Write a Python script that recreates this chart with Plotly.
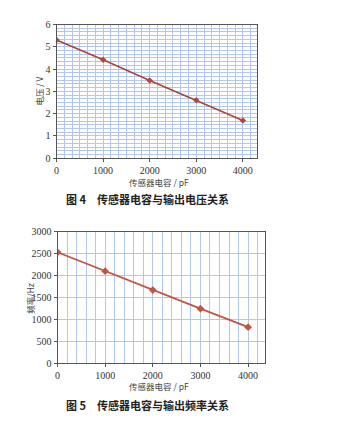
import plotly.graph_objects as go

cap_pf = [0, 1000, 2000, 3000, 4000]
voltage_v = [5.31, 4.42, 3.49, 2.60, 1.69]
freq_hz = [2527, 2096, 1667, 1244, 822]

x_ticks = [0, 1000, 2000, 3000, 4000]
v_ticks = [0, 1, 2, 3, 4, 5, 6]
f_ticks = [0, 500, 1000, 1500, 2000, 2500, 3000]

x_title = "传感器电容 / pF"
v_title = "电压 / V"
f_title = "频率/Hz"
cap1 = "图 4　传感器电容与输出电压关系"
cap2 = "图 5　传感器电容与输出频率关系"

W, H = 352, 422
grid = "#b2c7ec"
tickfont = dict(family="Times New Roman", size=10, color="#333")

fig = go.Figure()
fig.add_trace(go.Scatter(x=cap_pf, y=voltage_v, mode="lines+markers",
                         line=dict(color="#a8443c", width=1.6),
                         marker=dict(symbol="diamond", size=5, color="#b04a40"),
                         xaxis="x", yaxis="y", showlegend=False))
fig.add_trace(go.Scatter(x=cap_pf, y=freq_hz, mode="lines+markers",
                         line=dict(color="#c05540", width=1.8),
                         marker=dict(symbol="diamond", size=6, color="#c05540"),
                         xaxis="x2", yaxis="y2", showlegend=False))

def ax(**kw):
    d = dict(showline=True, linecolor="#555", linewidth=1, mirror=True,
             ticks="outside", ticklen=3, tickcolor="#555", tickfont=tickfont,
             showgrid=True, gridcolor=grid, gridwidth=1, zeroline=False)
    d.update(kw)
    return d

fig.update_layout(
    width=W, height=H, margin=dict(l=0, r=0, t=0, b=0),
    paper_bgcolor="white", plot_bgcolor="white",
    xaxis=ax(domain=[54/W, 256/W], range=[0, 4300], tickvals=x_ticks, anchor="y",
             minor=dict(dtick=1000/6, tick0=0, showgrid=True, gridcolor=grid, gridwidth=1)),
    yaxis=ax(domain=[1-157/H, 1-20/H], range=[0, 6], tickvals=v_ticks, anchor="x",
             minor=dict(dtick=1/6, tick0=0, showgrid=True, gridcolor=grid, gridwidth=1)),
    xaxis2=ax(domain=[55/W, 264/W], range=[0, 4350], tickvals=x_ticks, anchor="y2",
              minor=dict(dtick=200, tick0=0, showgrid=True, gridcolor=grid, gridwidth=1)),
    yaxis2=ax(domain=[1-367/H, 1-232/H], range=[0, 3000], tickvals=f_ticks, anchor="x2"),
)

def ann(text, x, y, size=10, angle=0, font="Noto Sans CJK SC", color="#444", bold=False):
    fig.add_annotation(text=f"<b>{text}</b>" if bold else text, x=x/W, y=1-y/H,
                       xref="paper", yref="paper", showarrow=False, textangle=angle,
                       font=dict(family=font, size=size, color=color),
                       xanchor="center", yanchor="middle")

ann(v_title, 36, 88, size=8.5, angle=-90)
ann(x_title, 157, 181, size=8.5)
ann(cap1, 146, 199, size=11, color="#222", bold=True)
ann(f_title, 27, 300, size=8.5, angle=-90)
ann(x_title, 157, 390, size=8.5)
ann(cap2, 146, 410, size=11, color="#222", bold=True)

fig.write_html("out.html")
